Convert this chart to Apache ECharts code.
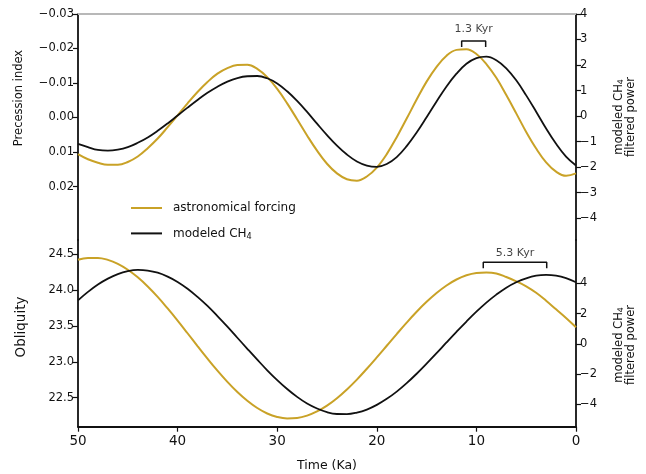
<!DOCTYPE html>
<html>
<head>
<meta charset="utf-8">
<script src="https://cdn.jsdelivr.net/npm/echarts@6/dist/echarts.min.js"></script>
<style>html,body{margin:0;padding:0;background:#fff}#c{width:646px;height:474px}</style>
</head>
<body>
<div id="c"></div>
<script>
// Time (Ka), 50 -> 0
const ka = [50,49,48,47,46,45,44,43,42,41,40,39,38,37,36,35,34,33,32,31,30,29,28,27,26,25,24,23,22,21,20,19,18,17,16,15,14,13,12,11,10,9,8,7,6,5,4,3,2,1,0];
// Top panel: precession index (astronomical forcing)
const precession = [0.0106,0.0121,0.0131,0.0137,0.0137,0.0129,0.0113,0.0089,0.0061,0.0028,
  -0.0006,-0.0041,-0.0074,-0.0103,-0.0127,-0.0143,-0.0152,-0.0153,-0.0141,-0.0117,
  -0.0083,-0.0041,0.0005,0.0052,0.0096,0.0134,0.0162,0.0179,0.0183,0.0171,
  0.0145,0.0106,0.0057,0.0003,-0.0052,-0.0104,-0.0147,-0.0179,-0.0196,-0.0198,
  -0.0184,-0.0155,-0.0115,-0.0065,-0.0012,0.0042,0.0090,0.0130,0.0157,0.0169,0.0162];
// Top panel: modeled CH4 filtered power
const ch4Precession = [-1.09,-1.22,-1.33,-1.36,-1.32,-1.22,-1.05,-0.84,-0.58,-0.29,
  0.02,0.33,0.63,0.91,1.15,1.35,1.49,1.56,1.57,1.48,
  1.28,0.97,0.59,0.16,-0.30,-0.75,-1.16,-1.51,-1.78,-1.94,
  -1.99,-1.88,-1.61,-1.18,-0.65,-0.05,0.57,1.16,1.66,2.05,
  2.27,2.33,2.19,1.87,1.40,0.81,0.17,-0.49,-1.09,-1.59,-1.94];
// Bottom panel: obliquity (astronomical forcing)
const obliquity = [24.42,24.446,24.446,24.418,24.363,24.281,24.175,24.048,23.903,23.742,
  23.573,23.397,23.219,23.044,22.876,22.720,22.579,22.457,22.356,22.280,
  22.232,22.211,22.217,22.250,22.308,22.389,22.492,22.615,22.752,22.903,
  23.061,23.223,23.386,23.545,23.696,23.834,23.957,24.062,24.145,24.204,
  24.237,24.244,24.23,24.18,24.12,24.05,23.96,23.85,23.73,23.61,23.48];
// Bottom panel: modeled CH4 filtered power
const ch4Obliquity = [2.87,3.43,3.92,4.31,4.61,4.80,4.88,4.84,4.70,4.44,
  4.09,3.64,3.10,2.50,1.83,1.13,0.40,-0.33,-1.05,-1.75,
  -2.40,-2.99,-3.51,-3.95,-4.28,-4.52,-4.64,-4.65,-4.55,-4.35,
  -4.04,-3.64,-3.16,-2.60,-1.98,-1.31,-0.62,0.09,0.79,1.47,
  2.12,2.72,3.25,3.71,4.07,4.33,4.50,4.55,4.50,4.34,4.07];
// Tick labels
const xTicks = [0,10,20,30,40,50];
const precTicks = [-0.03,-0.02,-0.01,0,0.01,0.02];
const ch4TopTicks = [-4,-3,-2,-1,0,1,2,3,4];
const oblTicks = [22.5,23.0,23.5,24.0,24.5];
const ch4BotTicks = [-4,-2,0,2,4];
// Phase lag annotations [startKa, endKa]
const lagTop = {label: '1.3 Kyr', from: 11.48, to: 9.07};
const lagBot = {label: '5.3 Kyr', from: 9.31, to: 2.94};

const GOLD = '#C9A227', BLACK = '#111111', FONT = 'DejaVu Sans';
const minus = s => String(s).replace('-', '\u2212');
const pairs = (xs, ys) => xs.map((x, i) => [x, ys[i]]);

const chart = echarts.init(document.getElementById('c'), null, {renderer: 'canvas'});
const yBase = (side) => ({
  type: 'value', position: side, splitLine: {show: false},
  axisLine: {show: true, onZero: false, lineStyle: {color: BLACK, width: 1.8}},
  axisTick: {show: true, length: 5, lineStyle: {color: BLACK, width: 1.2}},
  axisLabel: {color: BLACK, fontFamily: FONT, fontSize: 11.5, margin: 4}
});
const xBase = {
  type: 'value', min: 0, max: 50, interval: 10, inverse: true, splitLine: {show: false}
};
const subRich = (size, lh) => ({
  t: {fontFamily: FONT, fontSize: size, lineHeight: lh, color: BLACK, fill: BLACK},
  s: {fontFamily: FONT, fontSize: size * 0.68, lineHeight: lh, verticalAlign: 'bottom', padding: [4, 0, 0, 0], color: BLACK, fill: BLACK}
});

chart.setOption({
  animation: false,
  textStyle: {fontFamily: FONT},
  grid: [
    {left: 78, right: 70, top: 14, height: 226},
    {left: 78, right: 70, top: 240, height: 186.7}
  ],
  xAxis: [
    Object.assign({}, xBase, {gridIndex: 0, position: 'top',
      axisLine: {show: true, onZero: false, lineStyle: {color: '#b8b8b8', width: 2}},
      axisTick: {show: false}, axisLabel: {show: false}}),
    Object.assign({}, xBase, {gridIndex: 1, position: 'bottom',
      name: 'Time (Ka)', nameLocation: 'middle', nameGap: 33,
      nameTextStyle: {color: BLACK, fontFamily: FONT, fontSize: 12.5},
      axisLine: {show: true, onZero: false, lineStyle: {color: BLACK, width: 1.8}},
      axisTick: {show: true, length: 5, customValues: xTicks, lineStyle: {color: BLACK, width: 1.2}},
      axisLabel: {color: BLACK, fontFamily: FONT, fontSize: 13.5, margin: 8, customValues: xTicks}})
  ],
  yAxis: [
    Object.assign(yBase('left'), {gridIndex: 0, inverse: true, min: -0.03, max: 0.0355,
      axisTick: Object.assign(yBase('left').axisTick, {customValues: precTicks}),
      axisLabel: Object.assign(yBase('left').axisLabel, {customValues: precTicks, formatter: v => minus(v.toFixed(2))})}),
    Object.assign(yBase('right'), {gridIndex: 0, min: -4.86, max: 4,
      axisTick: Object.assign(yBase('right').axisTick, {customValues: ch4TopTicks}),
      axisLabel: Object.assign(yBase('right').axisLabel, {customValues: ch4TopTicks, formatter: v => minus(Math.round(v))})}),
    Object.assign(yBase('left'), {gridIndex: 1, min: 22.096, max: 24.695,
      axisTick: Object.assign(yBase('left').axisTick, {customValues: oblTicks}),
      axisLabel: Object.assign(yBase('left').axisLabel, {customValues: oblTicks, formatter: v => v.toFixed(1)})}),
    Object.assign(yBase('right'), {gridIndex: 1, min: -5.48, max: 6.86,
      axisTick: Object.assign(yBase('right').axisTick, {customValues: ch4BotTicks}),
      axisLabel: Object.assign(yBase('right').axisLabel, {customValues: ch4BotTicks, formatter: v => minus(Math.round(v))})})
  ],
  legend: {
    data: ['astronomical forcing', 'modeled CH4'],
    orient: 'vertical', left: 126, top: 197, itemWidth: 31, itemHeight: 2, itemGap: 13.4,
    icon: 'rect', selectedMode: false,
    formatter: n => n === 'modeled CH4' ? '{t|modeled CH}{s|4}' : '{t|' + n + '}',
    textStyle: {color: BLACK, fontFamily: FONT, fontSize: 12, padding: [0, 0, 0, 6], rich: subRich(12, 14)}
  },
  series: [
    {name: 'astronomical forcing', type: 'line', xAxisIndex: 0, yAxisIndex: 0, data: pairs(ka, precession),
      smooth: 0.4, showSymbol: false, color: GOLD, lineStyle: {color: GOLD, width: 2}},
    {name: 'modeled CH4', type: 'line', xAxisIndex: 0, yAxisIndex: 1, data: pairs(ka, ch4Precession),
      smooth: 0.4, showSymbol: false, color: BLACK, lineStyle: {color: BLACK, width: 1.8}},
    {name: 'astronomical forcing', type: 'line', xAxisIndex: 1, yAxisIndex: 2, data: pairs(ka, obliquity),
      smooth: 0.4, showSymbol: false, color: GOLD, lineStyle: {color: GOLD, width: 2}},
    {name: 'modeled CH4', type: 'line', xAxisIndex: 1, yAxisIndex: 3, data: pairs(ka, ch4Obliquity),
      smooth: 0.4, showSymbol: false, color: BLACK, lineStyle: {color: BLACK, width: 1.8}},
    {name: 'lagTop', type: 'line', xAxisIndex: 0, yAxisIndex: 0, silent: true, showSymbol: false,
      data: [[lagTop.from, -0.0204], [lagTop.from, -0.0222], [lagTop.to, -0.0222], [lagTop.to, -0.0204]],
      lineStyle: {color: BLACK, width: 1.5}},
    {name: 'lagBot', type: 'line', xAxisIndex: 1, yAxisIndex: 2, silent: true, showSymbol: false,
      data: [[lagBot.from, 24.30], [lagBot.from, 24.384], [lagBot.to, 24.384], [lagBot.to, 24.30]],
      lineStyle: {color: BLACK, width: 1.5}},
    {name: 'lagTopLabel', type: 'scatter', xAxisIndex: 0, yAxisIndex: 0, silent: true, symbolSize: 0,
      data: [[(lagTop.from + lagTop.to) / 2, -0.0257]],
      label: {show: true, position: 'inside', formatter: lagTop.label, color: BLACK, fontFamily: FONT, fontSize: 11}},
    {name: 'lagBotLabel', type: 'scatter', xAxisIndex: 1, yAxisIndex: 2, silent: true, symbolSize: 0,
      data: [[(lagBot.from + lagBot.to) / 2, 24.518]],
      label: {show: true, position: 'inside', formatter: lagBot.label, color: BLACK, fontFamily: FONT, fontSize: 11}}
  ],
  graphic: [
    {type: 'text', x: 19, y: 98, rotation: Math.PI / 2,
      style: {text: 'Precession index', font: '11.5px "DejaVu Sans"', fill: BLACK, align: 'center', verticalAlign: 'middle', textAlign: 'center', textVerticalAlign: 'middle'}},
    {type: 'text', x: 21, y: 327, rotation: Math.PI / 2,
      style: {text: 'Obliquity', font: '13.5px "DejaVu Sans"', fill: BLACK, align: 'center', verticalAlign: 'middle', textAlign: 'center', textVerticalAlign: 'middle'}},
    {type: 'text', x: 625, y: 117, rotation: Math.PI / 2,
      style: {text: '{t|modeled CH}{s|4}\n{t|filtered power}', fill: BLACK, align: 'center', verticalAlign: 'middle', textAlign: 'center', textVerticalAlign: 'middle',
        rich: subRich(11.5, 12.5)}},
    {type: 'text', x: 625, y: 345, rotation: Math.PI / 2,
      style: {text: '{t|modeled CH}{s|4}\n{t|filtered power}', fill: BLACK, align: 'center', verticalAlign: 'middle', textAlign: 'center', textVerticalAlign: 'middle',
        rich: subRich(11.5, 12.5)}}
  ]
});
</script>
</body>
</html>
